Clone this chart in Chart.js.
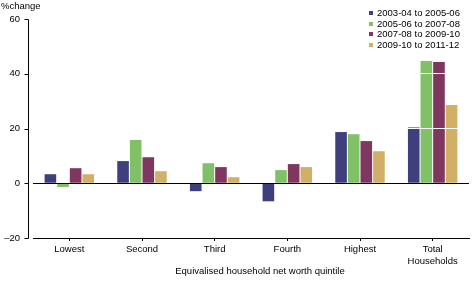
<!DOCTYPE html>
<html>
<head>
<meta charset="utf-8">
<script src="https://cdn.jsdelivr.net/npm/chart.js@4/dist/chart.umd.min.js"></script>
<style>
  html, body { margin: 0; padding: 0; background: #fff; }
  #c { display: block; }
</style>
</head>
<body>
<canvas id="c" width="472" height="283"></canvas>
<script>
const categories = ['Lowest', 'Second', 'Third', 'Fourth', 'Highest', ['Total', 'Households']];
const seriesLabels = ['2003-04 to 2005-06', '2005-06 to 2007-08', '2007-08 to 2009-10', '2009-10 to 2011-12'];
const series1 = [3.3, 8.1, -2.9, -6.6, 18.7, 20.4];
const series2 = [-1.4, 15.8, 7.3, 4.8, 17.9, 44.7];
const series3 = [5.5, 9.5, 5.9, 7.0, 15.4, 44.3];
const series4 = [3.3, 4.4, 2.2, 5.9, 11.7, 28.6];
const yTicks = [-20, 0, 20, 40, 60];
const colors = ['#403F7E', '#80C067', '#7F365F', '#D2AF67'];
const yTitle = '%change';
const xTitle = 'Equivalised household net worth quintile';

const FONT = "'Liberation Sans', Arial, sans-serif";
const FS = 9.5;

const extras = {
  id: 'extras',
  afterDraw(chart) {
    const ctx = chart.ctx;
    const ca = chart.chartArea;
    const y = chart.scales.y;
    ctx.save();
    // y axis line offset to the left of the plot area
    const ax = 28.5;
    ctx.strokeStyle = '#000';
    ctx.lineWidth = 1;
    ctx.beginPath();
    ctx.moveTo(ax, Math.round(y.getPixelForValue(yTicks[yTicks.length - 1])) + 0.5);
    ctx.lineTo(ax, Math.round(y.getPixelForValue(yTicks[0])) + 0.5);
    yTicks.forEach(v => {
      const py = Math.round(y.getPixelForValue(v)) + 0.5;
      ctx.moveTo(ax - 4, py);
      ctx.lineTo(ax, py);
    });
    ctx.stroke();
    // titles
    ctx.fillStyle = '#000';
    ctx.font = FS + 'px ' + FONT;
    ctx.textBaseline = 'middle';
    ctx.textAlign = 'left';
    ctx.fillText(yTitle, 1, 6.5);
    ctx.textAlign = 'center';
    ctx.fillText(xTitle, 260, 271.5);
    // legend
    const ds = chart.data.datasets;
    ds.forEach((d, i) => {
      const cy = 13 + i * 10.6;
      ctx.fillStyle = d.backgroundColor;
      ctx.fillRect(369, Math.round(cy - 2), 4, 4);
      ctx.fillStyle = '#000';
      ctx.textAlign = 'left';
      ctx.fillText(d.label, 377, cy + 0.5);
    });
    ctx.restore();
  }
};

new Chart(document.getElementById('c'), {
  type: 'bar',
  data: {
    labels: categories,
    datasets: [series1, series2, series3, series4].map((s, i) => ({
      label: seriesLabels[i],
      data: s,
      backgroundColor: colors[i],
      borderWidth: 0,
      categoryPercentage: 0.695,
      barPercentage: 0.92
    }))
  },
  options: {
    responsive: false,
    animation: false,
    devicePixelRatio: 1,
    layout: { padding: { top: 19, right: 3, left: 0, bottom: 0 } },
    plugins: {
      legend: { display: false },
      tooltip: { enabled: false },
      title: { display: false }
    },
    scales: {
      x: {
        afterFit: s => { s.height = 45; },
        grid: {
          offset: false,
          drawOnChartArea: false,
          drawTicks: true,
          tickLength: 3,
          tickColor: '#000'
        },
        border: { display: true, color: '#000', width: 1 },
        ticks: {
          color: '#000',
          font: { family: FONT, size: FS },
          padding: 3,
          maxRotation: 0,
          autoSkip: false
        }
      },
      y: {
        min: -20,
        max: 60,
        afterFit: s => { s.width = 33; },
        afterBuildTicks: s => { s.ticks = yTicks.map(v => ({ value: v })); },
        border: { display: false },
        grid: {
          z: 1,
          drawTicks: false,
          color: c => c.tick && c.tick.value === 0 ? '#000' : (c.tick && c.tick.value === -20 ? 'rgba(0,0,0,0)' : '#fff'),
          lineWidth: 1
        },
        ticks: {
          color: '#000',
          font: { family: FONT, size: FS },
          padding: 13,
          callback: v => v < 0 ? '\u2013' + Math.abs(v) : String(v)
        }
      }
    }
  },
  plugins: [extras]
});
</script>
</body>
</html>
